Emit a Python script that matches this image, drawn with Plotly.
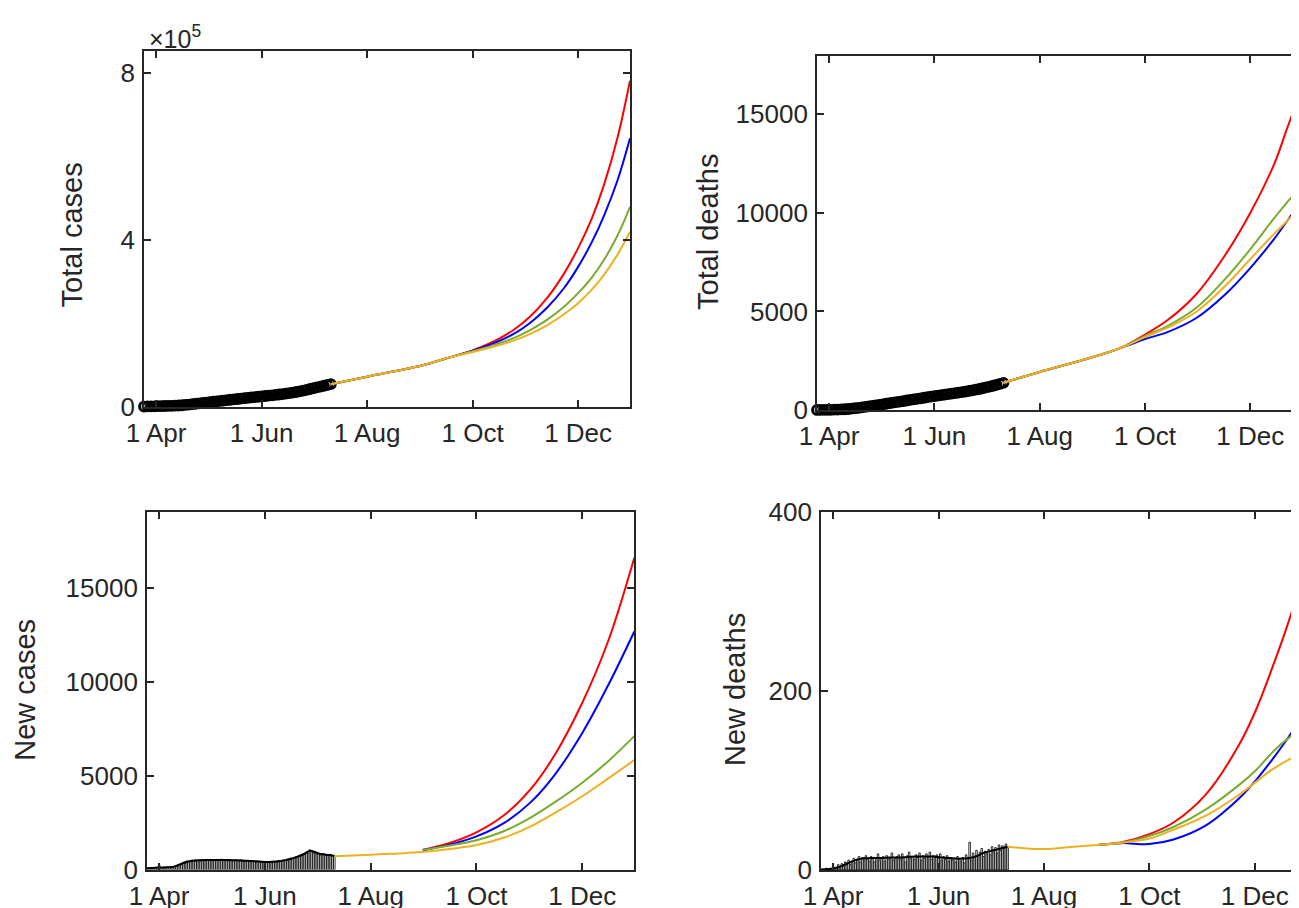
import pandas as pd
import plotly.graph_objects as go

# figure is drawn 8 px inside the page (browser body margin); right column and bottom labels run past the window edge
W, H = 1310, 915
FONT = "Liberation Sans, Arial, Helvetica, sans-serif"
AXC = "#262626"
RED, BLUE, GREEN, YELLOW = "#FF0000", "#0000FF", "#77AC30", "#EDB120"

# ---------------- observed data ----------------
obs_2day = pd.date_range("2020-03-25", "2020-07-11", freq="2D")
obs_daily = pd.date_range("2020-03-25", "2020-07-11", freq="D")

total_cases_obs = [400, 600, 800, 1000, 1200, 1400, 1620, 1840, 2100, 2450, 2900, 3500, 4300, 5200,
                   6150, 7100, 8050, 9000, 9950, 10900, 11850, 12800, 13750, 14700, 15650, 16600,
                   17550, 18500, 19450, 20350, 21250, 22150, 23050, 23900, 24750, 25600, 26450,
                   27350, 28250, 29200, 30200, 31250, 32450, 33750, 35200, 36800, 38550, 40450,
                   42400, 44300, 46300, 48300, 50200, 52100, 54000]

total_deaths_obs = [2, 4, 6, 8, 11, 15, 20, 28, 38, 52, 68, 88, 110, 134, 160, 186, 212, 238, 264,
                    290, 317, 344, 371, 398, 426, 454, 482, 510, 538, 566, 594, 622, 650, 677, 704,
                    731, 757, 782, 807, 831, 856, 882, 909, 937, 966, 997, 1030, 1066, 1104, 1144,
                    1186, 1230, 1276, 1324, 1380]

new_cases_obs = [60, 85, 70, 110, 95, 80, 120,
                 250, 90, 110, 130, 100, 140, 120, 150, 135, 170,
                 210, 260, 300, 340, 390, 420, 460, 430, 480, 500,
                 470, 520, 490, 510, 460, 530, 500, 480, 540, 490,
                 510, 470, 530, 500, 480, 520, 550, 490, 470, 510,
                 530, 480, 500, 460, 520, 490, 470, 510, 450, 480,
                 460, 430, 470, 410, 450, 420, 390, 440, 410, 380, 420,
                 400, 430, 390, 410, 370, 440, 420, 450, 480, 460,
                 500, 520, 490, 560, 580, 620, 600, 650, 690, 720,
                 760, 800, 850, 820, 900, 880, 1050, 960, 900, 870,
                 820, 860, 780, 800, 840, 760, 790, 740, 810, 720, 760]

new_deaths_obs = [0, 1, 0, 2, 1, 0, 2,
                  1, 3, 2, 6, 4, 7, 5, 9, 8, 11,
                  6, 10, 13, 8, 12, 15, 9, 14, 11, 16,
                  12, 10, 15, 13, 9, 14, 18, 11, 13, 15,
                  10, 16, 12, 14, 19, 11, 13, 15, 17, 12,
                  18, 14, 9, 16, 20, 13, 15, 12, 17, 14,
                  19, 11, 16, 13, 18, 15, 20, 12, 16, 14, 17,
                  13, 18, 11, 15, 12, 16, 10, 14, 11, 13,
                  9, 15, 12, 10, 14, 8, 17, 13, 31, 11,
                  19, 14, 22, 16, 20, 24, 15, 21, 18, 23,
                  17, 26, 20, 25, 19, 28, 22, 27, 24, 29, 25]

smooth_dates = ["2020-03-25", "2020-03-30", "2020-04-04", "2020-04-09", "2020-04-14", "2020-04-19",
                "2020-04-24", "2020-04-29", "2020-05-04", "2020-05-09", "2020-05-14", "2020-05-19",
                "2020-05-24", "2020-05-29", "2020-06-03", "2020-06-08", "2020-06-13", "2020-06-18",
                "2020-06-23", "2020-06-27", "2020-07-03", "2020-07-08", "2020-07-11"]
new_cases_smooth = [60, 90, 110, 140, 300, 450, 490, 500, 500, 500, 495, 485, 450, 420, 400, 420,
                    500, 620, 790, 1000, 820, 770, 720]
new_deaths_smooth = [0.5, 1, 3, 7, 11, 13, 13.5, 13.5, 14, 14, 14.5, 15, 15, 15, 14, 13, 12.5, 13,
                     15.5, 19, 22, 24.5, 26]

# ---------------- projections ----------------
tc_dates = ["2020-07-11", "2020-08-01", "2020-09-01", "2020-09-16", "2020-10-01", "2020-10-15",
            "2020-10-25", "2020-11-03", "2020-11-13", "2020-11-23", "2020-12-01", "2020-12-09",
            "2020-12-16", "2020-12-24", "2020-12-31"]
tc_red = [54000, 72000, 98000, 116000, 135000, 160000, 185000, 215000, 260000, 320000, 380000,
          452000, 532000, 648000, 781000]
tc_blue = [54000, 72000, 98000, 116000, 134000, 155000, 175000, 200000, 237000, 285000, 335000,
           395000, 458000, 545000, 643000]
tc_green = [54000, 72000, 98000, 116000, 133000, 150000, 165000, 183000, 208000, 240000, 272000,
            310000, 352000, 412000, 479000]
tc_yellow = [54000, 72000, 98000, 116000, 131000, 146000, 159000, 174000, 195000, 222000, 248000,
             281000, 316000, 366000, 419000]

td_dates = ["2020-07-11", "2020-08-01", "2020-08-24", "2020-09-12", "2020-09-20", "2020-10-01",
            "2020-10-14", "2020-10-31", "2020-11-16", "2020-12-01", "2020-12-15", "2020-12-22",
            "2020-12-29", "2020-12-31"]
td_red = [1380, 1930, 2485, 2990, 3280, 3830, 4550, 5900, 7800, 10000, 12500, 14200, 15900, 16450]
td_blue = [1380, 1930, 2485, 2990, 3240, 3600, 3950, 4680, 5820, 7200, 8700, 9540, 10400, 10650]
td_green = [1380, 1930, 2485, 2990, 3270, 3760, 4260, 5200, 6600, 8150, 9750, 10500, 11200, 11400]
td_yellow = [1380, 1930, 2485, 2990, 3260, 3700, 4175, 5000, 6250, 7650, 8950, 9560, 10150, 10320]

nc_y_dates = ["2020-07-11", "2020-07-25", "2020-08-08", "2020-08-22", "2020-09-01", "2020-09-18",
              "2020-10-01", "2020-10-17", "2020-11-01", "2020-11-15", "2020-12-01", "2020-12-16",
              "2020-12-31"]
nc_yellow = [705, 760, 820, 885, 950, 1120, 1300, 1700, 2280, 3000, 3900, 4850, 5825]
nc_dates = ["2020-08-31", "2020-09-15", "2020-10-01", "2020-10-17", "2020-11-01", "2020-11-15",
            "2020-12-01", "2020-12-16", "2020-12-31"]
nc_red = [1040, 1400, 1980, 2900, 4250, 6080, 8880, 12180, 16600]
nc_blue = [1040, 1310, 1760, 2480, 3560, 5030, 7270, 9820, 12670]
nc_green = [1040, 1260, 1560, 2050, 2750, 3570, 4620, 5770, 7100]

nd_y_dates = ["2020-07-11", "2020-07-22", "2020-08-02", "2020-08-15", "2020-09-01", "2020-09-15",
              "2020-10-01", "2020-10-15", "2020-11-03", "2020-11-22", "2020-12-11", "2020-12-26",
              "2020-12-31"]
nd_yellow = [26, 24, 23.5, 25.5, 28, 30.5, 35, 45, 61, 84, 112, 129, 134]
nd_dates = ["2020-09-01", "2020-09-15", "2020-10-01", "2020-10-15", "2020-11-03", "2020-11-22",
            "2020-12-02", "2020-12-11", "2020-12-19", "2020-12-26", "2020-12-31"]
nd_red = [28, 31, 40, 53, 85, 140, 180, 225, 268, 310, 342]
nd_blue = [28, 30, 29, 34, 50, 80, 101, 123, 144, 164, 179]
nd_green = [28, 30.5, 38, 48, 68, 95, 112, 131, 145, 155, 163]

tick_dates = ["2020-04-01", "2020-06-01", "2020-08-01", "2020-10-01", "2020-12-01"]
tick_text = ["1 Apr", "1 Jun", "1 Aug", "1 Oct", "1 Dec"]
x_range = ["2020-03-25", "2020-12-31"]


def px_dom_x(a, b):
    return [a / W, min(b / W, 1.0)]


def px_dom_y(top, bottom):
    return [1 - bottom / H, 1 - top / H]


fig = go.Figure()


def line(x, y, color, ax, width=2.0):
    fig.add_trace(go.Scatter(x=x, y=y, mode="lines", line=dict(color=color, width=width, shape="spline"),
                             xaxis=ax[0], yaxis=ax[1], showlegend=False, hoverinfo="skip"))


circle = dict(symbol="circle-open", size=9, color="black", line=dict(width=2.8))

# Panel 1: total cases
a1 = ("x", "y")
fig.add_trace(go.Scatter(x=obs_2day, y=total_cases_obs, mode="markers", cliponaxis=False,
                         marker=circle, xaxis="x", yaxis="y", showlegend=False))
for yy, c in [(tc_red, RED), (tc_blue, BLUE), (tc_green, GREEN), (tc_yellow, YELLOW)]:
    line(tc_dates, yy, c, a1)

# Panel 2: total deaths
a2 = ("x2", "y2")
fig.add_trace(go.Scatter(x=obs_2day, y=total_deaths_obs, mode="markers", cliponaxis=False,
                         marker=circle, xaxis="x2", yaxis="y2", showlegend=False))
for yy, c in [(td_red, RED), (td_blue, BLUE), (td_green, GREEN), (td_yellow, YELLOW)]:
    line(td_dates, yy, c, a2)

# Panel 3: new cases
a3 = ("x3", "y3")
fig.add_trace(go.Bar(x=obs_daily, y=new_cases_obs, marker=dict(color="white", line=dict(color="black", width=0.8)),
                     xaxis="x3", yaxis="y3", showlegend=False))
line(smooth_dates, new_cases_smooth, "black", a3)
line(nc_y_dates, nc_yellow, YELLOW, a3)
for yy, c in [(nc_red, RED), (nc_blue, BLUE), (nc_green, GREEN)]:
    line(nc_dates, yy, c, a3)

# Panel 4: new deaths
a4 = ("x4", "y4")
fig.add_trace(go.Bar(x=obs_daily, y=new_deaths_obs, marker=dict(color="white", line=dict(color="black", width=0.8)),
                     xaxis="x4", yaxis="y4", showlegend=False))
line(smooth_dates, new_deaths_smooth, "black", a4)
for yy, c in [(nd_red, RED), (nd_blue, BLUE), (nd_green, GREEN)]:
    line(nd_dates, yy, c, a4)
line(nd_y_dates, nd_yellow, YELLOW, a4)

tickfont = dict(family=FONT, size=26, color=AXC)


def xax(domain, anchor):
    return dict(domain=domain, range=x_range, anchor=anchor, type="date", automargin=False,
                tickmode="array", tickvals=tick_dates, ticktext=tick_text,
                ticks="inside", ticklen=7, tickwidth=1.5, tickcolor=AXC,
                showline=True, linecolor=AXC, linewidth=1.8, mirror="ticks",
                showgrid=False, zeroline=False, tickfont=tickfont, ticklabelstandoff=2)


def yax(domain, rng, anchor, vals, text):
    return dict(domain=domain, range=rng, anchor=anchor, automargin=False,
                tickmode="array", tickvals=vals, ticktext=text,
                ticks="inside", ticklen=7, tickwidth=1.5, tickcolor=AXC,
                showline=True, linecolor=AXC, linewidth=1.8, mirror="ticks",
                showgrid=False, zeroline=False, tickfont=tickfont, ticklabelstandoff=2)


fig.update_layout(
    width=W, height=H, margin=dict(l=0, r=0, t=0, b=0, autoexpand=False),
    paper_bgcolor="white", plot_bgcolor="white", bargap=0.1,
    xaxis=xax(px_dom_x(136, 622), "y"),
    yaxis=yax(px_dom_y(42.7, 398.7), [0, 853000], "x", [0, 400000, 800000], ["0", "4", "8"]),
    xaxis2=xax(px_dom_x(809, 1294), "y2"),
    yaxis2=yax(px_dom_y(48, 402), [0, 17960], "x2", [0, 5000, 10000, 15000],
               ["0", "5000", "10000", "15000"]),
    xaxis3=xax(px_dom_x(139, 626.3), "y3"),
    yaxis3=yax(px_dom_y(503.7, 861.5), [0, 19050], "x3", [0, 5000, 10000, 15000],
               ["0", "5000", "10000", "15000"]),
    xaxis4=xax(px_dom_x(813, 1298.6), "y4"),
    yaxis4=yax(px_dom_y(503.7, 862), [0, 400], "x4", [0, 200, 400], ["0", "200", "400"]),
)

titlefont = dict(family=FONT, size=29, color=AXC)
for txt, px, py in [("Total cases", 64.4, 227), ("Total deaths", 700, 224),
                    ("New cases", 16.8, 682), ("New deaths", 727, 682)]:
    fig.add_annotation(text=txt, x=px / W, y=1 - py / H, xref="paper", yref="paper",
                       textangle=-90, showarrow=False, font=titlefont,
                       xanchor="center", yanchor="middle")

fig.add_annotation(text="\u00d710<sup>5</sup>", x=139 / W, y=1 - 29 / H, xref="paper", yref="paper",
                   showarrow=False, font=dict(family=FONT, size=25, color=AXC),
                   xanchor="left", yanchor="middle")

fig.write_html("out.html")
